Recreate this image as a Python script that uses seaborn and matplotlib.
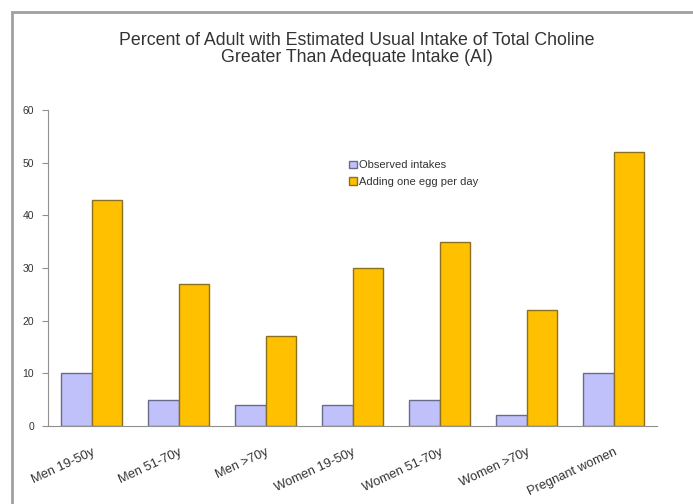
import matplotlib
matplotlib.use("Agg")
import matplotlib.pyplot as plt
import seaborn as sns
import pandas as pd
from matplotlib.patches import Rectangle

categories = ["Men 19-50y", "Men 51-70y", "Men >70y", "Women 19-50y",
              "Women 51-70y", "Women >70y", "Pregnant women"]
observed = [10, 5, 4, 4, 5, 2, 10]
adding_egg = [43, 27, 17, 30, 35, 22, 52]
series = ["Observed intakes", "Adding one egg per day"]
yticks = [0, 10, 20, 30, 40, 50, 60]

df = pd.DataFrame({
    "category": categories * 2,
    "value": observed + adding_egg,
    "series": [series[0]] * len(categories) + [series[1]] * len(categories),
})

sns.set_style("white")
plt.rcParams['font.family'] = ['Liberation Sans', 'DejaVu Sans']

fig = plt.figure(figsize=(6.93, 5.04), dpi=100)
# outer frame
fig.patches.append(Rectangle((12 / 693, -0.1), 1.0, 1 - 12 / 504 + 0.1,
                             transform=fig.transFigure, fill=False,
                             edgecolor="#a0a0a0", linewidth=2.0))

ax = fig.add_axes([48 / 693, 1 - 426 / 504, (657 - 48) / 693, (426 - 110) / 504])
palette = {series[0]: "#C0C0FA", series[1]: "#FFC000"}
sns.barplot(data=df, x="category", y="value", hue="series", hue_order=series,
            palette=palette, width=0.69, ax=ax, saturation=1.0, legend=False)
edgecols = ["#6a6a8a", "#8a7020"]
for i, cont in enumerate(ax.containers):
    for bar in cont:
        bar.set_edgecolor(edgecols[i])
        bar.set_linewidth(1.0)

ax.set_ylim(0, 60)
ax.set_yticks(yticks)
ax.set_xlim(-0.5, len(categories) - 0.5)
ax.set_xlabel("")
ax.set_ylabel("")
for s in ["top", "right"]:
    ax.spines[s].set_visible(False)
ax.spines["left"].set_color("#909090")
ax.spines["bottom"].set_color("#909090")
ax.tick_params(axis="y", left=True, length=4, width=0.8, color="#909090",
               labelsize=7.5, labelcolor="#333333", pad=6)
ax.tick_params(axis="x", bottom=False, labelsize=9.3, labelcolor="#333333", pad=11)
plt.setp(ax.get_xticklabels(), rotation=25, ha="right", rotation_mode="anchor")

fig.text(357 / 693, 1 - 49 / 504,
         "Percent of Adult with Estimated Usual Intake of Total Choline\nGreater Than Adequate Intake (AI)",
         ha="center", va="center", fontsize=12.8, color="#333333", linespacing=1.02)

# legend
handles = [Rectangle((0, 0), 1, 1, facecolor=palette[s], edgecolor=edgecols[i])
           for i, s in enumerate(series)]
leg = fig.legend(handles, series, loc="upper left",
                 bbox_to_anchor=(345 / 693, 1 - 156 / 504), frameon=False,
                 fontsize=8, handlelength=0.7, handleheight=0.7,
                 handletextpad=0.2, labelspacing=0.55, borderaxespad=0)
for t in leg.get_texts():
    t.set_color("#333333")

fig.savefig("out.png", dpi=100)
